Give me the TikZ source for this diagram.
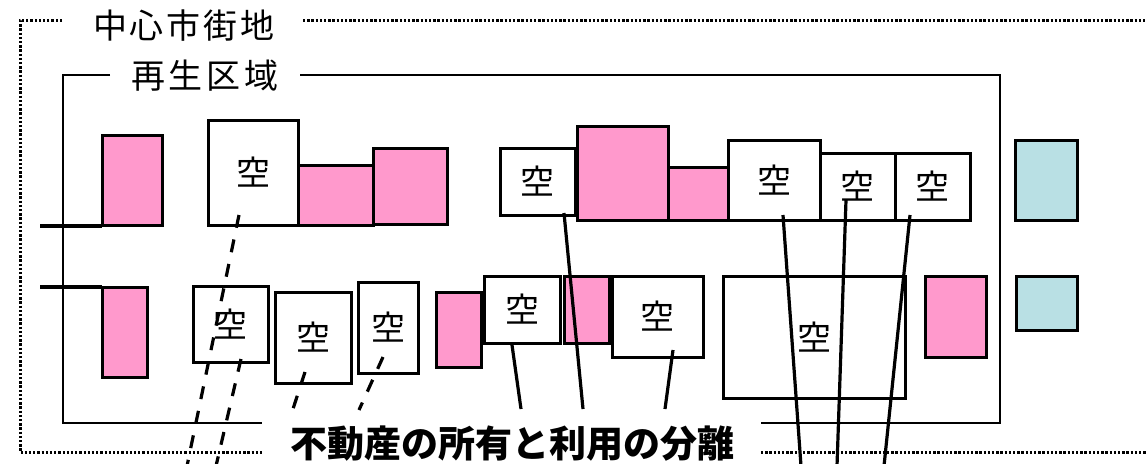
\documentclass[tikz,border=0pt]{standalone}
\usepackage{fontspec}
\newfontfamily\jp{Noto Sans CJK JP}
\definecolor{pk}{RGB}{255,153,204}
\definecolor{tl}{RGB}{185,224,228}
\tikzset{
  base/.style={draw=black, line width=3pt, inner sep=0pt, outer sep=0pt, font=\jp\fontsize{34}{34}\selectfont},
  pinkbox/.style={base, fill=pk},
  emptybox/.style={base, fill=white},
  tealbox/.style={base, fill=tl},
  solidline/.style={line width=3.2pt},
  dashline/.style={line width=3.2pt, dash pattern=on 13pt off 12pt},
  dotline/.style={line width=3pt, dash pattern=on 2.3pt off 1.9pt},
  frameline/.style={line width=2.7pt},
  titlelabel/.style={inner sep=0pt, font=\jp\fontsize{34}{34}\selectfont},
}
\newcommand\mkbox[7]{\node[#2, minimum width={(#5)-(#3)}, minimum height={(#6)-(#4)}] (#1) at ({((#3)+(#5))/2},{((#4)+(#6))/2}) {#7};}
\begin{document}
\begin{tikzpicture}[x=1pt,y=-1pt]
\useasboundingbox (0,0) rectangle (1147,463);
% frames
\draw[dotline] (62,20) -- (20,20) -- (20,452) -- (262,452);
\draw[dotline] (303,20) -- (1150,20);
\draw[dotline] (761,452) -- (1150,452);
\draw[frameline] (110,75) -- (63,75) -- (63,423) -- (262,423);
\draw[frameline] (300,75) -- (1000,75) -- (1000,423) -- (761,423);
% labels
\node[titlelabel] (city) at (184,26) {中\kern3pt 心\kern3pt 市\kern3pt 街\kern3pt 地};
\node[titlelabel] (zone) at (205,76) {再\kern4pt 生\kern4pt 区\kern4pt 域};
\node[inner sep=0pt, font=\jp\bfseries\fontsize{37}{37}\selectfont] (sep) at (512,444) {不動産の所有と利用の分離};
% road lines
\coordinate (r1a) at (40,226); \coordinate (r1b) at (102,226);
\coordinate (r2a) at (40,287); \coordinate (r2b) at (102,287);
\draw[solidline] (r1a) -- (r1b);
\draw[solidline] (r2a) -- (r2b);
% top row
\mkbox{p1}{pinkbox}{102}{135}{162}{225}{}
\mkbox{e1}{emptybox}{208}{120}{298}{225}{空}
\mkbox{p2}{pinkbox}{298}{165}{373}{225}{}
\mkbox{p3}{pinkbox}{373}{148}{447}{224}{}
\mkbox{e2}{emptybox}{500}{148}{575}{215}{空}
\mkbox{p4}{pinkbox}{577}{126}{668}{220}{}
\mkbox{p5}{pinkbox}{668}{167}{728}{220}{}
\mkbox{e3}{emptybox}{728}{140}{820}{220}{空}
\mkbox{e4}{emptybox}{820}{153}{895}{220}{空}
\mkbox{e5}{emptybox}{895}{153}{970}{220}{空}
\mkbox{t1}{tealbox}{1015}{140}{1077}{220}{}
% bottom row
\mkbox{p6}{pinkbox}{102}{287}{147}{377}{}
\mkbox{e6}{emptybox}{193}{286}{268}{362}{空}
\mkbox{e7}{emptybox}{275}{292}{351}{383}{空}
\mkbox{e8}{emptybox}{358}{282}{418}{373}{空}
\mkbox{p7}{pinkbox}{436}{292}{481}{367}{}
\mkbox{e9}{emptybox}{484}{276}{560}{343}{空}
\mkbox{p8}{pinkbox}{564}{276}{609}{343}{}
\mkbox{e10}{emptybox}{612}{276}{703}{357}{空}
\mkbox{e11}{emptybox}{723}{276}{905}{398}{空}
\mkbox{p9}{pinkbox}{925}{276}{986}{357}{}
\mkbox{t2}{tealbox}{1016}{276}{1077}{330}{}
% connector end points
\coordinate (s1) at (564,213); \coordinate (f1) at (583,409);
\coordinate (s2) at (512,345); \coordinate (f2) at (521,409);
\coordinate (s3) at (673,350); \coordinate (f3) at (665,409);
\coordinate (s4) at (783,215); \coordinate (f4) at (801,466);
\coordinate (s5) at (846,200); \coordinate (f5) at (837,466);
\coordinate (s6) at (910,215); \coordinate (f6) at (884,466);
\coordinate (d1a) at (239,215); \coordinate (d1b) at (187,466);
\coordinate (d2a) at (241,359); \coordinate (d2b) at (216,466);
\coordinate (d3a) at (305,372); \coordinate (d3b) at (292,412);
\coordinate (d4a) at (383,357); \coordinate (d4b) at (359,410);
\draw[solidline] (s1) -- (f1);
\draw[solidline] (s2) -- (f2);
\draw[solidline] (s3) -- (f3);
\draw[solidline] (s4) -- (f4);
\draw[solidline] (s5) -- (f5);
\draw[solidline] (s6) -- (f6);
\draw[dashline] (d1a) -- (d1b);
\draw[dashline] (d2a) -- (d2b);
\draw[dashline] (d3a) -- (d3b);
\draw[dashline] (d4a) -- (d4b);
\end{tikzpicture}
\end{document}
